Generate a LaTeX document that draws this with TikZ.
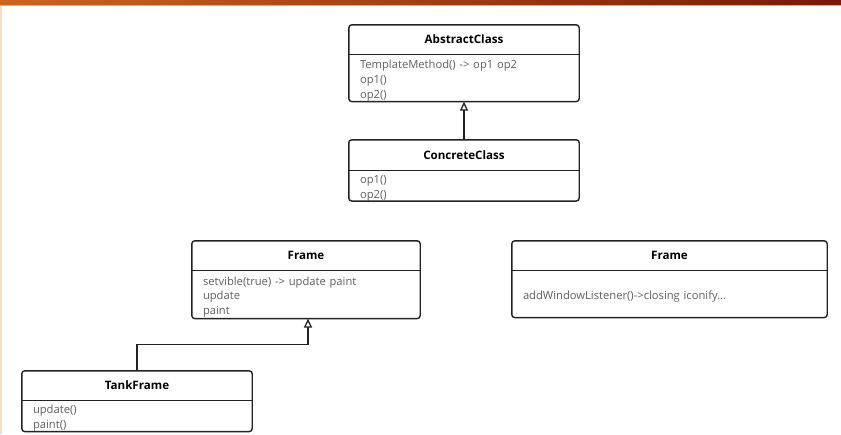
\documentclass[tikz,border=0pt]{standalone}
\usepackage{fontspec}
\setmainfont{Open Sans}
\usepackage{tikz}
\usetikzlibrary{calc, positioning, arrows.meta}
\definecolor{barleft}{RGB}{205,100,30}
\definecolor{barright}{RGB}{120,25,5}
\definecolor{barline}{RGB}{245,165,95}
\definecolor{edgeline}{RGB}{252,222,200}
\definecolor{umlline}{RGB}{35,35,35}
\definecolor{membertext}{RGB}{95,95,95}
\tikzset{
    classhead/.style={rectangle, inner sep=0pt, minimum height=29pt, font=\bfseries\fontsize{11.6}{13}\selectfont},
    classbody/.style={rectangle, inner xsep=11pt, inner ysep=0pt, text width=#1, align=left, text=membertext, font=\fontsize{11.2}{14.8}\selectfont},
    classframe/.style={draw=umlline, line width=1.4pt, rounded corners=3pt},
    divider/.style={draw=umlline, line width=1.2pt},
    inherit/.style={draw=umlline, line width=1.3pt, -{Triangle[open, length=9pt, width=8pt]}}
}

\begin{document}
\begin{tikzpicture}[x=1pt, y=-1pt]
    \useasboundingbox (0,0) rectangle (841,434);
    % Window bar
    \shade[left color=barleft, right color=barright] (0,0) rectangle (841,4.5);
    \fill[barline] (0,4.5) rectangle (841,6);
    \fill[edgeline] (0,6) rectangle (1.5,434);

    % Abstract class
    \node[classhead, minimum width=230pt] (abstract) at (464,39.5) {AbstractClass};
    \node[classbody=208pt, minimum height=42pt, below=5pt of abstract] (abstractbody) {TemplateMethod() -> op1 op2\\op1()\\op2()};
    \draw[classframe] (abstract.north west) rectangle (abstractbody.south east);
    \draw[divider] (abstract.south west) -- (abstract.south east);

    % Concrete class
    \node[classhead, minimum width=230pt, minimum height=30pt] (concrete) at (464,155) {ConcreteClass};
    \node[classbody=208pt, minimum height=23pt, below=5pt of concrete] (concretebody) {op1()\\op2()};
    \draw[classframe] (concrete.north west) rectangle (concretebody.south east);
    \draw[divider] (concrete.south west) -- (concrete.south east);

    % Frame (left)
    \node[classhead, minimum width=228pt] (frame) at (306,255.5) {Frame};
    \node[classbody=206pt, minimum height=43pt, below=5pt of frame] (framebody) {setvible(true) -> update paint\\update\\paint};
    \draw[classframe] (frame.north west) rectangle (framebody.south east);
    \draw[divider] (frame.south west) -- (frame.south east);

    % Frame (right)
    \node[classhead, minimum width=315pt] (awtframe) at (669.5,255.5) {Frame};
    \node[classbody=293pt, minimum height=42pt, below=5pt of awtframe] (awtframebody) {addWindowListener()->closing iconify...};
    \draw[classframe] (awtframe.north west) rectangle (awtframebody.south east);
    \draw[divider] (awtframe.south west) -- (awtframe.south east);

    % Tank frame
    \node[classhead, minimum width=230pt] (tank) at (137,385.5) {TankFrame};
    \node[classbody=208pt, minimum height=26pt, below=5pt of tank] (tankbody) {update()\\paint()};
    \draw[classframe] (tank.north west) rectangle (tankbody.south east);
    \draw[divider] (tank.south west) -- (tank.south east);

    % Generalisation
    \draw[inherit] (concrete.north) -- (abstractbody.south);
    \draw[inherit] (tank.north) -- ++(0,-26) -| ($(framebody.south)+(2,0)$);
\end{tikzpicture}
\end{document}
